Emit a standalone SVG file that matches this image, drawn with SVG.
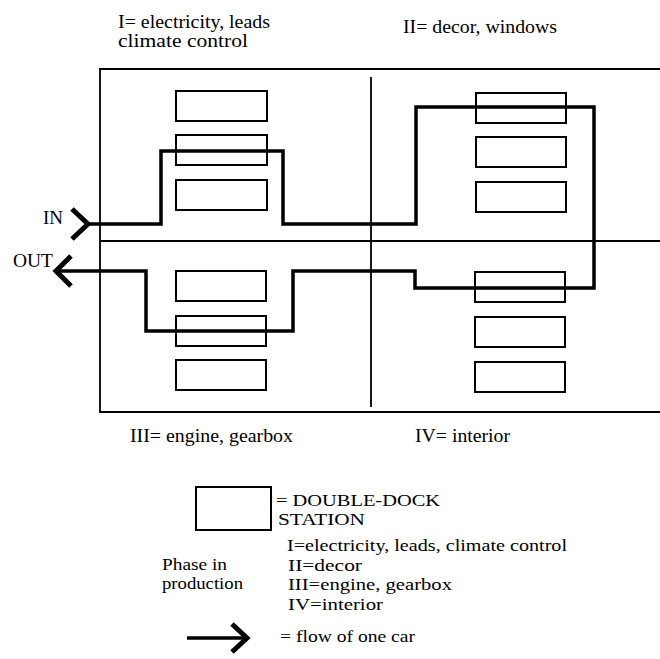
<svg xmlns="http://www.w3.org/2000/svg" width="660" height="659" viewBox="0 0 660 659">
<style>
text{font-family:"Liberation Serif","Times New Roman","DejaVu Serif",serif;font-size:18px;fill:#000}
.sm{font-size:16px}
.frame{fill:none;stroke:#000;stroke-width:1.8}
.st{fill:#fff;stroke:#000;stroke-width:2}
.flow{fill:none;stroke:#000;stroke-width:3.5;stroke-linejoin:miter}
.chev{fill:none;stroke:#000;stroke-width:5;stroke-linecap:butt;stroke-linejoin:miter}
</style>
<rect width="660" height="659" fill="#fff"/>
<g id="frame">
<path class="frame" d="M660,69 H100 V412 H660 M100,241 H660 M371,77 V407"/>
</g>
<g id="phase-labels" font-family="Liberation Serif, serif">
<text x="118" y="28" textLength="152" lengthAdjust="spacingAndGlyphs">I= electricity, leads</text>
<text x="118" y="47" textLength="130" lengthAdjust="spacingAndGlyphs">climate control</text>
<text x="403" y="33" textLength="154" lengthAdjust="spacingAndGlyphs">II= decor, windows</text>
<text x="130" y="442" textLength="163" lengthAdjust="spacingAndGlyphs">III= engine, gearbox</text>
<text x="415" y="442" textLength="95" lengthAdjust="spacingAndGlyphs">IV= interior</text>
</g>
<g id="section-I">
<rect class="st" x="176" y="91" width="91" height="30"/>
<rect class="st" x="176" y="135" width="91" height="30"/>
<rect class="st" x="176" y="180" width="91" height="30"/>
</g>
<g id="section-II">
<rect class="st" x="476" y="93" width="90" height="30"/>
<rect class="st" x="476" y="137" width="90" height="30"/>
<rect class="st" x="476" y="182" width="90" height="30"/>
</g>
<g id="section-III">
<rect class="st" x="176" y="271" width="90" height="30"/>
<rect class="st" x="176" y="316" width="90" height="30"/>
<rect class="st" x="176" y="360" width="90" height="30"/>
</g>
<g id="section-IV">
<rect class="st" x="475" y="272" width="90" height="30"/>
<rect class="st" x="475" y="317" width="90" height="30"/>
<rect class="st" x="475" y="362" width="90" height="30"/>
</g>
<g id="connectors">
<path class="flow" d="M86,224 H161 V151 H283 V224 H416 V107 H594 V288 H415 V271 H293 V331 H146 V271 H57"/>
<path class="chev" d="M72,209 L88,224 L72,239"/>
<path class="chev" d="M71,256 L56,271 L71,286"/>
</g>
<g id="io-labels" font-family="Liberation Serif, serif">
<text x="43" y="224" textLength="20" lengthAdjust="spacingAndGlyphs">IN</text>
<text x="13" y="267" textLength="40" lengthAdjust="spacingAndGlyphs">OUT</text>
</g>
<g id="legend" font-family="Liberation Serif, serif">
<rect class="st" x="196" y="487" width="75" height="43"/>
<text class="sm" x="276" y="506" textLength="164" lengthAdjust="spacingAndGlyphs">= DOUBLE-DOCK</text>
<text class="sm" x="278" y="525" textLength="87" lengthAdjust="spacingAndGlyphs">STATION</text>
<text class="sm" x="162" y="570" textLength="65" lengthAdjust="spacingAndGlyphs">Phase in</text>
<text class="sm" x="162" y="589" textLength="81" lengthAdjust="spacingAndGlyphs">production</text>
<text class="sm" x="287" y="551" textLength="280" lengthAdjust="spacingAndGlyphs">I=electricity, leads, climate control</text>
<text class="sm" x="288" y="571" textLength="74" lengthAdjust="spacingAndGlyphs">II=decor</text>
<text class="sm" x="288" y="590" textLength="164" lengthAdjust="spacingAndGlyphs">III=engine, gearbox</text>
<text class="sm" x="288" y="610" textLength="95" lengthAdjust="spacingAndGlyphs">IV=interior</text>
<path class="flow" d="M187,638 H246"/>
<path class="chev" d="M232,624 L247,638 L232,652"/>
<text class="sm" x="280" y="642" textLength="135" lengthAdjust="spacingAndGlyphs">= flow of one car</text>
</g>
</svg>
